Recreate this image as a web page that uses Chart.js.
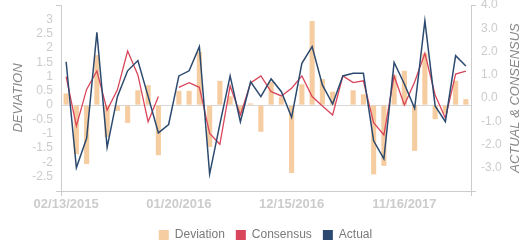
<!DOCTYPE html>
<html>
<head>
<meta charset="utf-8">
<script src="https://cdn.jsdelivr.net/npm/chart.js@4"></script>
<style>
  html, body { margin: 0; padding: 0; background: #fff; }
</style>
</head>
<body>
<canvas id="release_chart" width="531" height="250"></canvas>
<script>
var dates = [
    '02/13/2015', '03/12/2015', '04/14/2015', '05/13/2015', '06/11/2015', '07/14/2015',
    '08/13/2015', '09/15/2015', '10/14/2015', '11/17/2015', '12/15/2015', '01/20/2016',
    '02/19/2016', '03/16/2016', '04/14/2016', '05/17/2016', '06/16/2016', '07/15/2016',
    '08/16/2016', '09/16/2016', '10/18/2016', '11/17/2016', '12/15/2016', '01/18/2017',
    '02/15/2017', '03/15/2017', '04/14/2017', '05/12/2017', '06/14/2017', '07/14/2017',
    '08/11/2017', '09/14/2017', '10/13/2017', '11/16/2017', '12/13/2017', '01/12/2018',
    '02/14/2018', '03/13/2018', '04/11/2018', '05/10/2018'
];
var deviation = [
    0.41, -1.71, -2.06, 1.75, -1.11, -0.2, -0.62, 0.52, 0.7, -1.75,
    null, 0.5, 0.5, 1.86, -1.46, 0.85, 0.31, -0.26, 0.06, -0.93,
    0.81, 0.29, -2.37, 0.73, 2.94, 0.91, 0.47, 0, 0.52, 0.38,
    -2.42, -2.12, 1.05, 1.2, -1.6, 1.81, -0.49, -0.29, 0.85, 0.21
];
var consensus = [
    0.92, -1.2, 0.37, 1.16, -0.52, 0.35, 2.02, 0.99, -1.02, 0.06,
    null, 0.46, 0.66, 0.46, -1.52, -1.99, 0.52, -0.73, 0.65, 0.95,
    0.27, 0.09, 0.42, 0.95, 0.06, -0.34, -0.73, 0.95, 0.66, 0.74,
    -1.06, -1.59, 0.95, -0.3, 0.69, 1.92, 0.13, -0.87, 1.03, 1.16
];
var actual = [
    1.56, -3.0, -1.73, 2.83, -2.12, 0.06, 1.17, 1.61, 0.07, -1.5,
    -1.14, 0.95, 1.17, 2.21, -3.27, -1.12, 0.95, -1.02, 0.7, 0.06,
    0.82, 0.27, -0.83, 1.49, 2.21, 0.56, -0.26, 0.95, 1.06, 1.06,
    -1.84, -2.62, 1.53, 0.6, -0.44, 3.32, -0.34, -1.02, 1.82, 1.38
];

var FONT = "'Liberation Sans', Arial, sans-serif";
var AXIS = '#cccccc';

// right axis title reads bottom-to-top, chart.js would rotate it the other way
var rightTitle = {
    id: 'rightTitle',
    afterDraw: function (chart) {
        var c = chart.ctx, a = chart.chartArea;
        c.save();
        c.translate(chart.width - 16, (a.top + a.bottom) / 2);
        c.rotate(-Math.PI / 2);
        c.font = 'italic 13px ' + FONT;
        c.fillStyle = '#888888';
        c.textAlign = 'center';
        c.textBaseline = 'middle';
        c.fillText('ACTUAL & CONSENSUS', 0, 0);
        c.restore();
    }
};

// fixed axis widths, and let the top label overhang the plot edge
function fixWidth(w) {
    return function (s) {
        s.width = w;
        s.paddingTop = 0;
        s.paddingBottom = 0;
    };
}

var ctx = document.getElementById('release_chart').getContext('2d');
var releaseChart = new Chart(ctx, {
    type: 'bar',
    data: {
        labels: dates,
        datasets: [{
            label: 'Deviation',
            data: deviation,
            yAxisID: 'y',
            backgroundColor: '#f6cda0',
            borderWidth: 0,
            categoryPercentage: 1,
            barPercentage: 0.5,
            order: 3
        }, {
            type: 'line',
            label: 'Consensus',
            data: consensus,
            yAxisID: 'y1',
            borderColor: '#d9465b',
            backgroundColor: '#d9465b',
            borderWidth: 1.3,
            pointRadius: 0,
            tension: 0,
            order: 2
        }, {
            type: 'line',
            label: 'Actual',
            data: actual,
            yAxisID: 'y1',
            borderColor: '#2c4a6f',
            backgroundColor: '#2c4a6f',
            borderWidth: 1.5,
            pointRadius: 0,
            tension: 0,
            order: 1
        }]
    },
    options: {
        responsive: false,
        animation: false,
        layout: { padding: { top: 5, left: 0, right: 0, bottom: -1 } },
        plugins: {
            tooltip: { enabled: false },
            legend: {
                position: 'bottom',
                labels: {
                    boxWidth: 10,
                    boxHeight: 10,
                    padding: 11,
                    color: '#7a7a7a',
                    font: { family: FONT, size: 12 },
                    generateLabels: function (chart) {
                        return Chart.defaults.plugins.legend.labels.generateLabels(chart)
                            .map(function (l) { l.lineWidth = 0; return l; })
                            .sort(function (a, b) { return a.datasetIndex - b.datasetIndex; });
                    }
                }
            }
        },
        scales: {
            x: {
                offset: true,
                border: { display: true, color: AXIS },
                grid: {
                    offset: true,
                    drawOnChartArea: false,
                    tickLength: 5,
                    tickColor: function (c) {
                        return (c.index === 0 || c.tick === undefined) ? AXIS : 'transparent';
                    }
                },
                ticks: {
                    autoSkip: false,
                    maxRotation: 0,
                    padding: 1,
                    color: AXIS,
                    font: { family: FONT, size: 13, weight: 'bold' },
                    callback: function (v, i) {
                        return i % 11 === 0 ? this.getLabelForValue(v) : '';
                    }
                },
                afterFit: function (s) { s.height = 27; }
            },
            y: {
                position: 'left',
                min: -3,
                max: 3.5,
                border: { display: true, color: AXIS },
                grid: {
                    tickLength: 5,
                    color: function (c) {
                        return c.tick && c.tick.value === 0 ? '#d8d8d8' : 'transparent';
                    },
                    tickColor: function (c) {
                        return c.tick && (c.tick.value === -3 || c.tick.value === 3.5) ? AXIS : 'transparent';
                    }
                },
                ticks: {
                    stepSize: 0.5,
                    autoSkip: false,
                    padding: 3,
                    color: AXIS,
                    font: { family: FONT, size: 12 },
                    callback: function (v) {
                        return (v === -3 || v === 3.5) ? '' : String(v);
                    }
                },
                title: {
                    display: true,
                    text: 'DEVIATION',
                    color: '#888888',
                    font: { family: FONT, size: 13, style: 'italic' },
                    padding: { top: 11, bottom: 0 }
                },
                afterFit: fixWidth(61)
            },
            y1: {
                position: 'right',
                min: -4,
                max: 4,
                border: { display: true, color: AXIS },
                grid: {
                    drawOnChartArea: false,
                    tickLength: 5,
                    tickColor: function (c) {
                        return c.tick && (c.tick.value === -4 || c.tick.value === 4) ? AXIS : 'transparent';
                    }
                },
                ticks: {
                    stepSize: 1,
                    autoSkip: false,
                    padding: 5,
                    color: AXIS,
                    font: { family: FONT, size: 12 },
                    callback: function (v) {
                        return v === -4 ? '' : v.toFixed(1);
                    }
                },
                afterFit: fixWidth(60)
            }
        }
    },
    plugins: [rightTitle]
});
</script>
</body>
</html>
